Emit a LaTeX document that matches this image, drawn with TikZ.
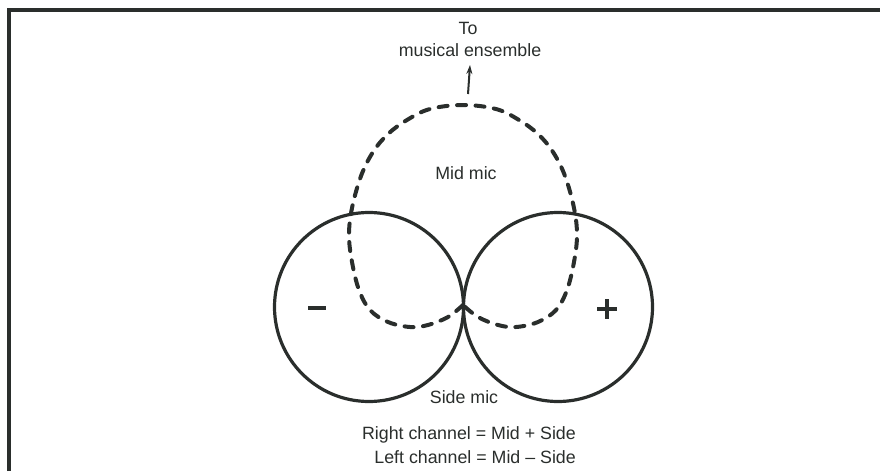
\documentclass[tikz,border=0pt]{standalone}
\usepackage{fontspec}
\setmainfont{Liberation Sans}
\usetikzlibrary{arrows.meta}
\definecolor{ink}{RGB}{42,46,44}
\begin{document}
\begin{tikzpicture}[x=1pt,y=-1pt,
  lbl/.style={font=\fontsize{17.8}{20}\selectfont, text=ink, inner sep=0pt},
  lobe/.style={circle, draw=ink, line width=3.2pt, minimum size=189pt, inner sep=0pt},
  midpat/.style={draw=ink, line width=4pt, line cap=round, dash pattern=on 9pt off 9.5pt},
  frame/.style={draw=ink, line width=3.2pt},
  sign/.style={draw=ink, line width=4.5pt}]
\useasboundingbox (0,0) rectangle (880,471);
% frame
\coordinate (fa) at (9,471);
\coordinate (fb) at (9,10);
\coordinate (fc) at (880,10);
\draw[frame] (fa) -- (fb) -- (fc);
% side mic lobes
\node[lobe] (L) at (369,307) {};
\node[lobe] (R) at (558,307) {};
\coordinate (cusp) at (463,305);
% mid mic cardioid
\draw[midpat] plot[smooth, tension=0.6] coordinates {
 (463,305) (448,317) (428,325) (410,327) (388,322) (370,310) (359,290)
 (352,262) (349,235) (352,208) (361,176) (373,152) (388,134) (407,120)
 (430,109) (463,105) (496,109) (519,120) (538,134) (553,152) (565,176)
 (574,208) (577,235) (574,262) (567,290) (556,310) (538,322) (516,327)
 (498,325) (478,317) (463,305)};
% signs
\coordinate (m1) at (308,308); \coordinate (m2) at (326,308);
\draw[sign] (m1) -- (m2);
\coordinate (p1) at (597,309); \coordinate (p2) at (617,309);
\coordinate (p3) at (607,299); \coordinate (p4) at (607,319);
\draw[sign] (p1) -- (p2);
\draw[sign] (p3) -- (p4);
% texts
\node[lbl] (to) at (468,28) {To};
\node[lbl] (ens) at (470,50) {musical ensemble};
\coordinate (arrbase) at (468,94);
\draw[draw=ink, line width=2pt, -{Stealth[length=9pt,width=6pt]}] (arrbase) -- (ens.south |- 0,65);
\node[lbl] (mid) at (466,173) {Mid mic};
\node[lbl] (side) at (464,397) {Side mic};
\node[lbl, anchor=east] (rc) at (576,435) {Right channel = Mid + Side};
\node[lbl, anchor=east] (lc) at (576,457) {Left channel = Mid -- Side};
\end{tikzpicture}
\end{document}
